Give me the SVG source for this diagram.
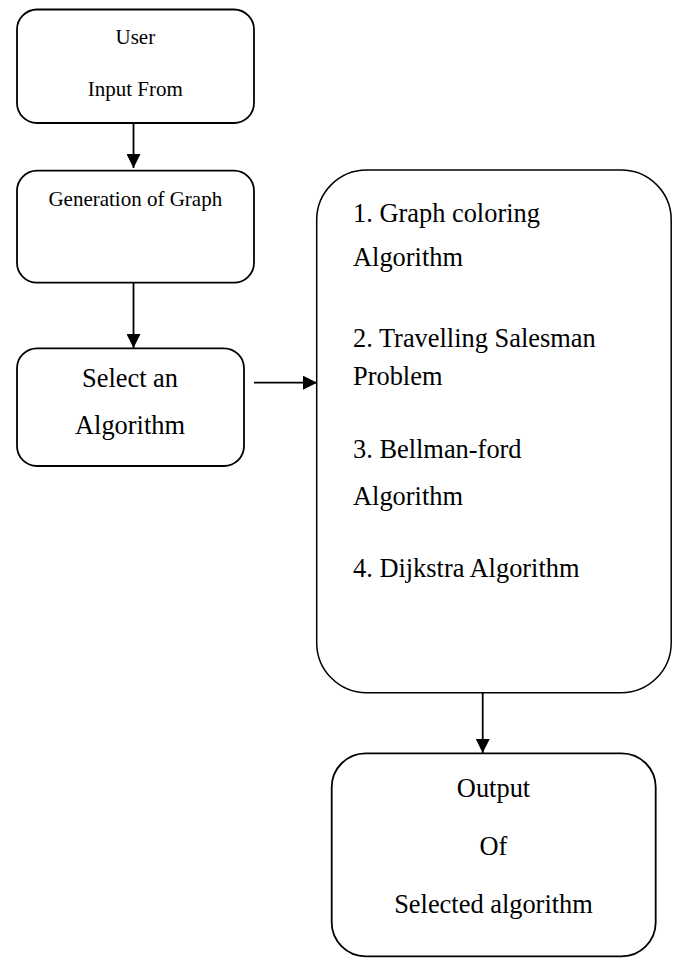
<svg xmlns="http://www.w3.org/2000/svg" width="673" height="958" viewBox="0 0 673 958">
<style>
.box{fill:#fff;stroke:#000;stroke-width:1.8}
.big{fill:#fff;stroke:#000;stroke-width:1.5}
.t{font-family:"Liberation Serif","Times New Roman",serif;fill:#000}
.s{font-size:21px}
.l{font-size:26.4px}
.c{text-anchor:middle}
.edge{stroke:#000;stroke-width:1.8;fill:none}
</style>
<defs>
<marker id="ah" viewBox="0 0 10 10" refX="10" refY="5" markerWidth="15" markerHeight="14" markerUnits="userSpaceOnUse" orient="auto">
<path d="M0,0 L10,5 L0,10 z" fill="#000"/>
</marker>
</defs>
<rect width="673" height="958" fill="#fff"/>
<g id="connectors">
<line class="edge" x1="133.5" y1="123" x2="133.5" y2="168" marker-end="url(#ah)"/>
<line class="edge" x1="133.5" y1="283" x2="133.5" y2="348" marker-end="url(#ah)"/>
<line class="edge" x1="254" y1="382.7" x2="317" y2="382.7" marker-end="url(#ah)"/>
<line class="edge" x1="482.7" y1="693" x2="482.7" y2="753" marker-end="url(#ah)"/>
</g>
<g id="node-user-input">
<rect class="box" x="17" y="9.5" width="237" height="113.5" rx="20" ry="20"/>
<text class="t s c" x="135.3" y="44.3">User</text>
<text class="t s c" x="135.3" y="95.7">Input From</text>
</g>
<g id="node-generation">
<rect class="box" x="17" y="170.7" width="237" height="112" rx="20" ry="20"/>
<text class="t s c" x="135.3" y="206">Generation of Graph</text>
</g>
<g id="node-select">
<rect class="box" x="17" y="348.3" width="227" height="117.7" rx="20" ry="20"/>
<text class="t l c" x="130" y="387.3">Select an</text>
<text class="t l c" x="130" y="434">Algorithm</text>
</g>
<g id="node-algorithms">
<rect class="big" x="316.7" y="170" width="354.5" height="522.7" rx="50" ry="50"/>
<text class="t l" x="353" y="221.7">1. Graph coloring</text>
<text class="t l" x="353" y="266">Algorithm</text>
<text class="t l" x="353" y="346.7">2. Travelling Salesman</text>
<text class="t l" x="353" y="385">Problem</text>
<text class="t l" x="353" y="458.3">3. Bellman-ford</text>
<text class="t l" x="353" y="505">Algorithm</text>
<text class="t l" x="353" y="576.7">4. Dijkstra Algorithm</text>
</g>
<g id="node-output">
<rect class="box" x="331.7" y="753.3" width="324" height="203" rx="34" ry="34"/>
<text class="t l c" x="493.5" y="797.3">Output</text>
<text class="t l c" x="493.5" y="855">Of</text>
<text class="t l c" x="493.5" y="912.7">Selected algorithm</text>
</g>
</svg>
